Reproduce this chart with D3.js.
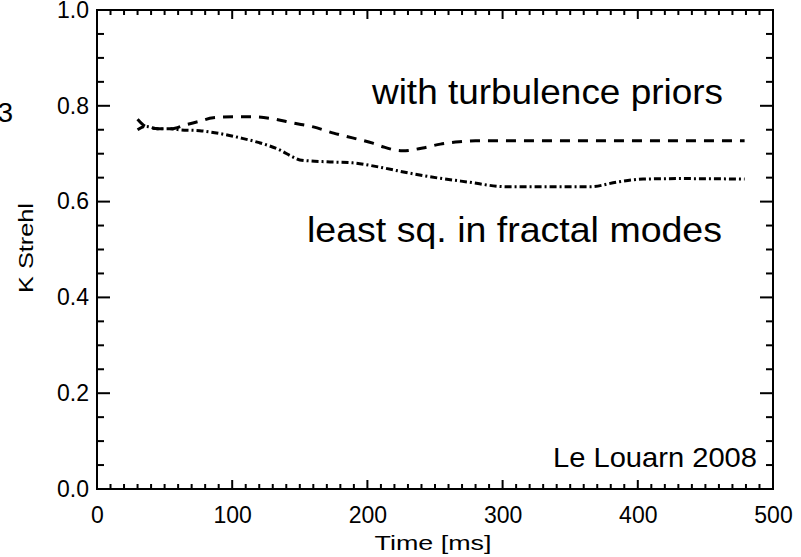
<!DOCTYPE html>
<html>
<head>
<meta charset="utf-8">
<script src="https://cdn.jsdelivr.net/npm/d3@7"></script>
<style>
  body { margin: 0; background: #fff; }
  svg { display: block; }
  text { font-family: "Liberation Sans", Arial, sans-serif; fill: #000; }
</style>
</head>
<body>
<div id="chart"></div>
<script>
// data
var priorsTime = [30, 36, 45, 55, 65, 75, 86, 101, 115, 130, 145, 160, 175, 189, 204, 212, 226, 241, 254, 268, 280, 300, 350, 400, 450, 479];
var priorsStrehl = [0.772, 0.757, 0.752, 0.752, 0.760, 0.767, 0.775, 0.777, 0.777, 0.773, 0.764, 0.756, 0.743, 0.733, 0.722, 0.714, 0.706, 0.712, 0.720, 0.725, 0.727, 0.727, 0.727, 0.727, 0.727, 0.727];

var fractalTime = [30, 36, 45, 55, 61, 76, 91, 106, 120, 135, 145, 150, 170, 189, 207, 230, 246, 274, 303, 335, 365, 385, 404, 433, 479];
var fractalStrehl = [0.750, 0.757, 0.752, 0.752, 0.750, 0.748, 0.742, 0.733, 0.723, 0.708, 0.693, 0.687, 0.683, 0.681, 0.673, 0.660, 0.652, 0.641, 0.631, 0.631, 0.631, 0.641, 0.647, 0.648, 0.647];

var xTicks = [0, 100, 200, 300, 400, 500];
var yTicks = [0.0, 0.2, 0.4, 0.6, 0.8, 1.0];

var width = 801;
var height = 557;
// plot box (window.top is reserved, so use other names)
var plotL = 97, plotR = 773, plotT = 10, plotB = 489;

var svg = d3.select("#chart")
  .append("svg")
  .attr("width", width)
  .attr("height", height);

var xScale = d3.scaleLinear().domain([0, 500]).range([plotL, plotR]);
var yScale = d3.scaleLinear().domain([0, 1]).range([plotB, plotT]);

// minor ticks: every 10 ms, every 0.05
var xMinor = d3.range(0, 501, 10);
var yMinor = d3.range(0, 21).map(function(i) { return i * 0.05; });

// inward ticks on all four sides
var ticks = svg.append("g").attr("stroke", "#000").attr("stroke-width", 2);
xMinor.forEach(function(t) {
  var len = (t % 100 === 0) ? 9 : 5;
  ticks.append("line").attr("x1", xScale(t)).attr("x2", xScale(t))
    .attr("y1", plotB).attr("y2", plotB - len);
  ticks.append("line").attr("x1", xScale(t)).attr("x2", xScale(t))
    .attr("y1", plotT).attr("y2", plotT + len);
});
yMinor.forEach(function(v, i) {
  var len = (i % 4 === 0) ? 13 : 7;
  ticks.append("line").attr("x1", plotL).attr("x2", plotL + len)
    .attr("y1", yScale(v)).attr("y2", yScale(v));
  ticks.append("line").attr("x1", plotR).attr("x2", plotR - len)
    .attr("y1", yScale(v)).attr("y2", yScale(v));
});

// frame
svg.append("rect")
  .attr("x", plotL).attr("y", plotT)
  .attr("width", plotR - plotL).attr("height", plotB - plotT)
  .attr("fill", "none").attr("stroke", "#000").attr("stroke-width", 2);

// tick labels through d3 axes (lines hidden, labels kept)
var xAxis = d3.axisBottom(xScale).tickValues(xTicks).tickSize(0).tickPadding(18)
  .tickFormat(d3.format("d"));
var yAxis = d3.axisLeft(yScale).tickValues(yTicks).tickSize(0).tickPadding(8)
  .tickFormat(d3.format(".1f"));

svg.append("g")
  .attr("transform", "translate(0," + plotB + ")")
  .call(xAxis)
  .call(function(g) { g.select(".domain").remove(); })
  .selectAll("text")
  .attr("font-size", 23)
  .style("font-family", "Liberation Sans, Arial, sans-serif")
  .attr("fill", "#000");

svg.append("g")
  .attr("transform", "translate(" + plotL + ",0)")
  .call(yAxis)
  .call(function(g) { g.select(".domain").remove(); })
  .selectAll("text")
  .attr("font-size", 23)
  .style("font-family", "Liberation Sans, Arial, sans-serif")
  .attr("fill", "#000");

// axis titles
svg.append("text")
  .attr("x", 433)
  .attr("y", 550)
  .attr("text-anchor", "middle")
  .attr("font-size", 21)
  .attr("textLength", 117)
  .attr("lengthAdjust", "spacingAndGlyphs")
  .text("Time [ms]");

svg.append("text")
  .attr("transform", "translate(33,248)rotate(-90)")
  .attr("text-anchor", "middle")
  .attr("font-size", 21)
  .attr("textLength", 90)
  .attr("lengthAdjust", "spacingAndGlyphs")
  .text("K Strehl");

// lines
var line = d3.line()
  .x(function(d) { return xScale(d[0]); })
  .y(function(d) { return yScale(d[1]); })
  .curve(d3.curveMonotoneX);

svg.append("path")
  .datum(d3.zip(priorsTime, priorsStrehl))
  .attr("d", line)
  .attr("fill", "none")
  .attr("stroke", "#000")
  .attr("stroke-width", 3)
  .attr("stroke-dasharray", "10,8");

svg.append("path")
  .datum(d3.zip(fractalTime, fractalStrehl))
  .attr("d", line)
  .attr("fill", "none")
  .attr("stroke", "#000")
  .attr("stroke-width", 3)
  .attr("stroke-dasharray", "7,3,2,3");

// annotations
svg.append("text")
  .attr("x", 372).attr("y", 104)
  .attr("font-size", 35)
  .attr("textLength", 351)
  .attr("lengthAdjust", "spacingAndGlyphs")
  .text("with turbulence priors");

svg.append("text")
  .attr("x", 307).attr("y", 242)
  .attr("font-size", 35)
  .attr("textLength", 415)
  .attr("lengthAdjust", "spacingAndGlyphs")
  .text("least sq. in fractal modes");

svg.append("text")
  .attr("x", 553).attr("y", 467)
  .attr("font-size", 28)
  .attr("textLength", 204)
  .attr("lengthAdjust", "spacingAndGlyphs")
  .text("Le Louarn 2008");

// partial panel label at the left edge
svg.append("text")
  .attr("x", 13).attr("y", 122)
  .attr("text-anchor", "end")
  .attr("font-size", 28)
  .text("3");
</script>
</body>
</html>
